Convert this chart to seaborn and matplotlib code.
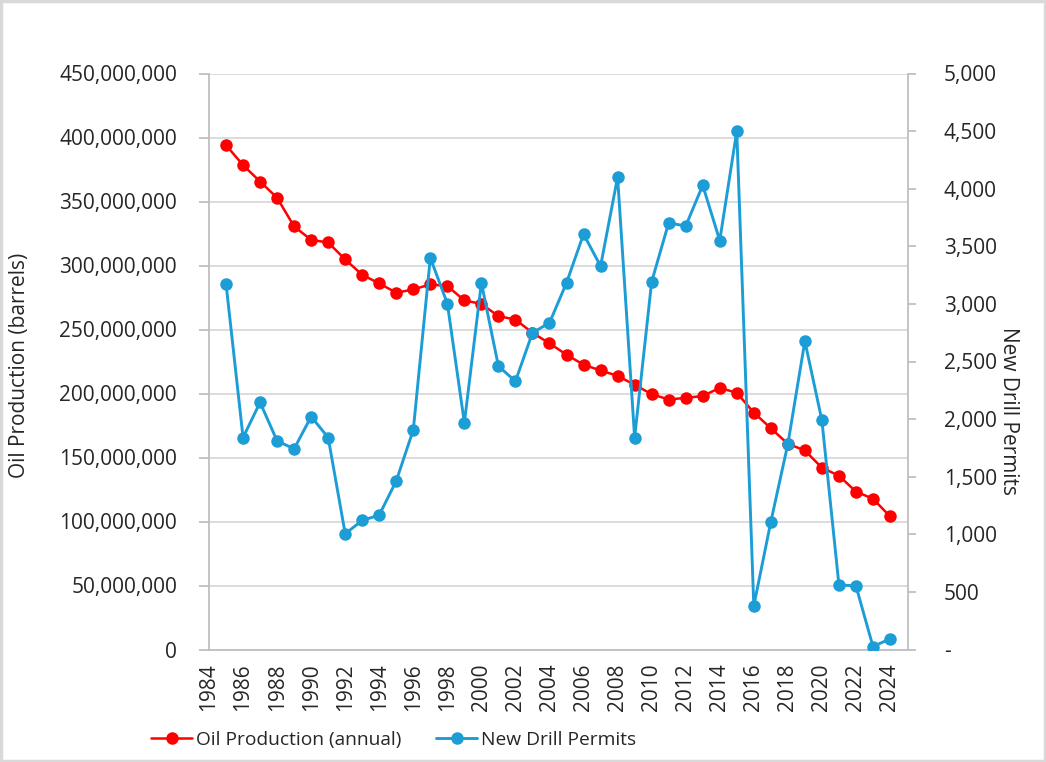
import numpy as np
import pandas as pd
import seaborn as sns
import matplotlib.pyplot as plt
from matplotlib.ticker import FuncFormatter
from matplotlib.patches import Rectangle

#### DATA ####

years = list(range(1985, 2025))

oil_production = [
    394.0e6, 378.4e6, 365.6e6, 352.9e6, 330.5e6, 320.0e6, 318.0e6, 304.7e6, 292.7e6, 286.0e6,
    278.7e6, 281.3e6, 285.2e6, 284.0e6, 272.7e6, 270.0e6, 260.4e6, 257.8e6, 247.4e6, 239.2e6,
    230.3e6, 222.5e6, 218.0e6, 213.8e6, 206.8e6, 199.5e6, 195.3e6, 196.6e6, 198.0e6, 204.4e6,
    200.5e6, 185.1e6, 172.8e6, 160.7e6, 155.5e6, 142.0e6, 135.8e6, 123.3e6, 117.8e6, 104.0e6,
]

drill_permits = [
    3176, 1840, 2145, 1811, 1742, 2022, 1840, 1005, 1120, 1167,
    1464, 1907, 3400, 3003, 1968, 3183, 2459, 2329, 2749, 2836,
    3183, 3606, 3328, 4100, 1840, 3192, 3704, 3676, 4030, 3550,
    4500, 379, 1108, 1783, 2677, 1989, 561, 552, 26, 92,
]

x_ticks = list(range(1984, 2025, 2))

df = pd.DataFrame({'Year': years, 'Oil': oil_production, 'Permits': drill_permits})

#### STYLE ####

sns.set_style('white')
plt.rcParams['font.family'] = ['Open Sans', 'DejaVu Sans']
red = '#ff0000'
blue = '#1c9dd6'
grid_gray = '#d9d9d9'
text_col = '#262626'

#### PLOT ####

fig = plt.figure(figsize=(10.46, 7.62), dpi=100)
ax = fig.add_axes([209 / 1046, 1 - 649.5 / 762, (907.7 - 209) / 1046, 576 / 762])
ax2 = ax.twinx()

sns.lineplot(data=df, x='Year', y='Oil', ax=ax, color=red, marker='o', markersize=9,
             markeredgewidth=0, linewidth=1.8, label='Oil Production (annual)', legend=False)
sns.lineplot(data=df, x='Year', y='Permits', ax=ax2, color=blue, marker='o', markersize=9,
             markeredgewidth=0, linewidth=2.1, label='New Drill Permits', legend=False)

ax.set_xlim(1984, 2025.04)
ax.set_ylim(0, 450e6)
ax2.set_ylim(0, 5000)
ax.set_yticks(np.arange(0, 450e6 + 1, 50e6))
ax2.set_yticks(np.arange(0, 5001, 500))
ax.set_xticks(x_ticks)
ax.set_xticklabels([str(y) for y in x_ticks], rotation=90)

ax.yaxis.set_major_formatter(FuncFormatter(lambda v, p: f'{v:,.0f}'))
ax2.yaxis.set_major_formatter(FuncFormatter(lambda v, p: '-' if v == 0 else f'{v:,.0f}'))

ax.grid(axis='y', color=grid_gray, linewidth=1.3)
ax.set_axisbelow(True)

for a in (ax, ax2):
    for s in a.spines.values():
        s.set_visible(False)
ax.spines['left'].set_visible(True)
ax.spines['bottom'].set_visible(True)
ax2.spines['right'].set_visible(True)
for s in (ax.spines['left'], ax.spines['bottom'], ax2.spines['right']):
    s.set_color('#bfbfbf')
    s.set_linewidth(1.3)

ax.tick_params(axis='y', length=7, width=1.3, color='#bfbfbf', labelsize=15, labelcolor=text_col, pad=16)
ax.tick_params(axis='x', length=7, width=1.3, color='#bfbfbf', labelsize=15, labelcolor=text_col, pad=3)
ax2.tick_params(axis='y', length=6, width=1.3, color='#bfbfbf', labelsize=15, labelcolor=text_col, pad=20)

ax.set_xlabel('')
ax.set_ylabel('Oil Production (barrels)', fontsize=15, color=text_col)
ax2.set_ylabel('New Drill Permits', fontsize=15, color=text_col, rotation=-90, va='center')
ax.yaxis.set_label_coords(-0.256, 0.494)
ax2.yaxis.set_label_coords(1.1436, 0.414)

handles = ax.get_lines()[:1] + ax2.get_lines()[:1]
fig.legend(handles, ['Oil Production (annual)', 'New Drill Permits'], loc='center',
           bbox_to_anchor=(394 / 1046, 1 - 740 / 762), ncol=2, frameon=False, fontsize=13.8,
           handlelength=2.1, handletextpad=0.25, columnspacing=1.8, labelcolor=text_col)

fig.patches.append(Rectangle((0.001, 0.001), 0.998, 0.998, transform=fig.transFigure,
                             fill=False, edgecolor='#d9d9d9', linewidth=2.5))

plt.savefig('out.png', dpi=100)
plt.close()
